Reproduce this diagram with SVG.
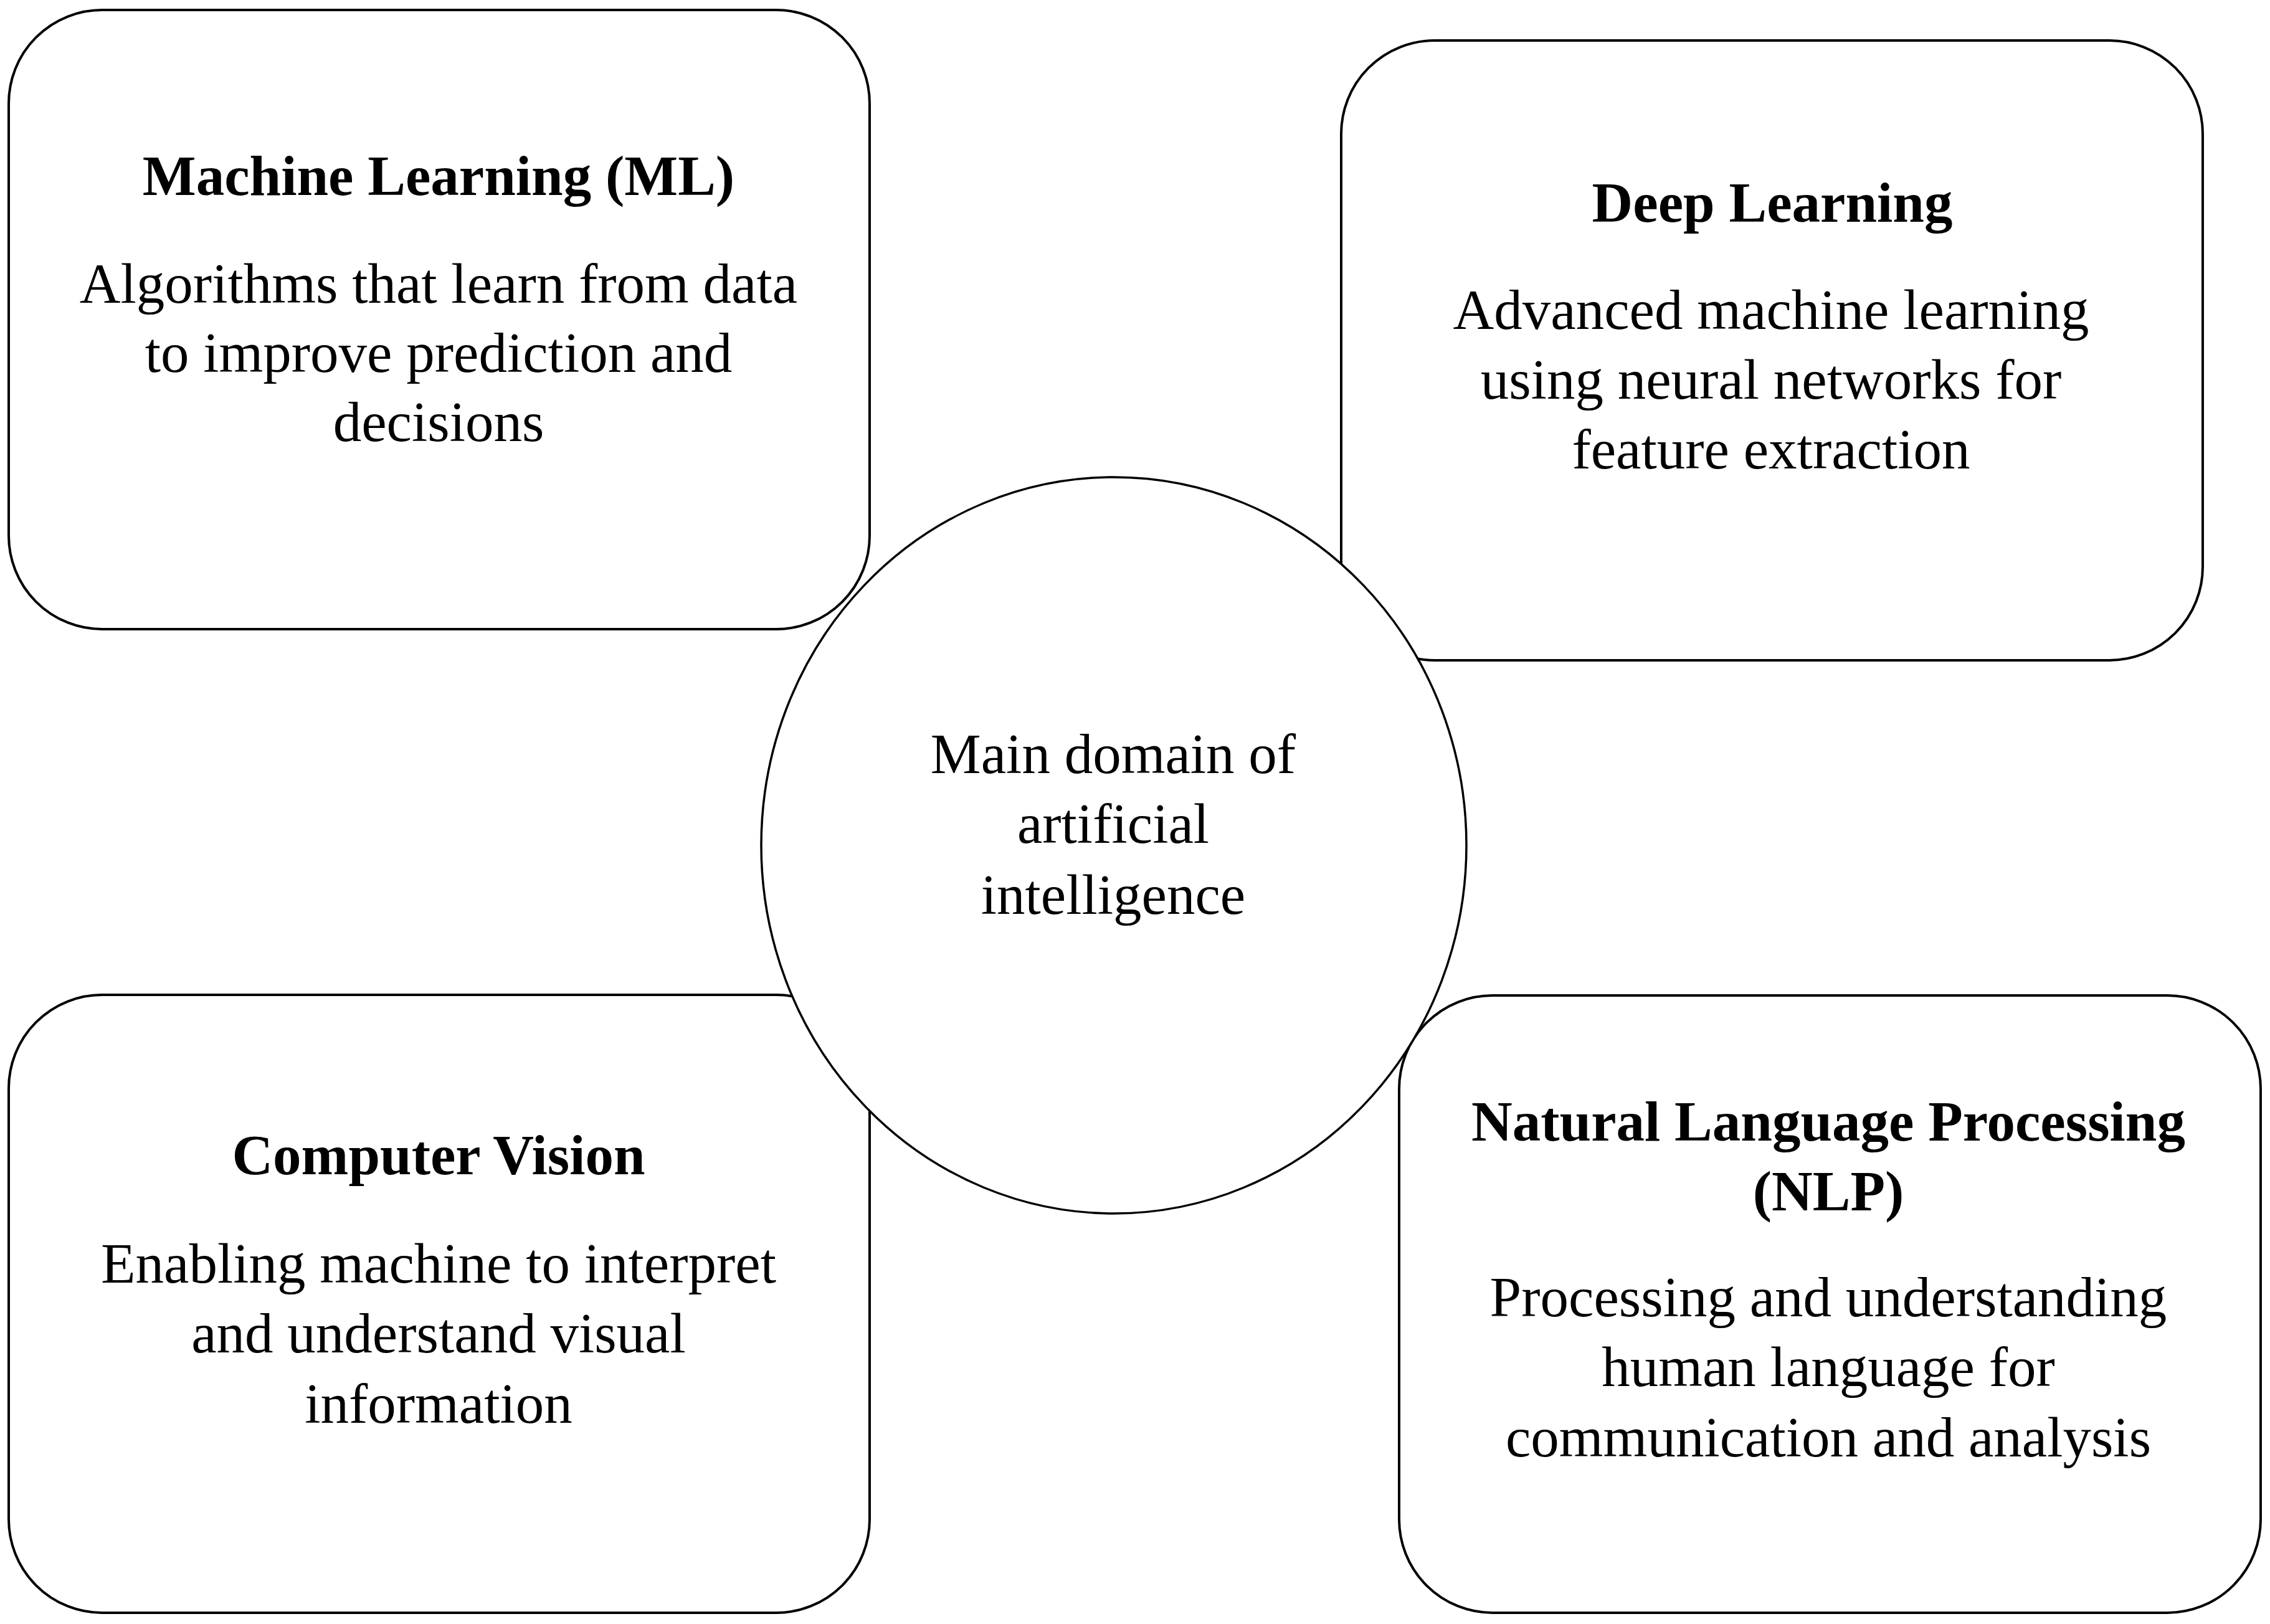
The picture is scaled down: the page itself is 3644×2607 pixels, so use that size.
<svg xmlns="http://www.w3.org/2000/svg" width="3644" height="2607" viewBox="0 0 3644 2607">
<style>
.box{fill:#ffffff;stroke:#000000;stroke-width:4}
.hub{fill:#ffffff;stroke:#000000;stroke-width:3.5}
.t{font-family:"Liberation Serif","Times New Roman",serif;font-size:91px;font-weight:bold;fill:#000;text-anchor:middle}
.b{font-family:"Liberation Serif","Times New Roman",serif;font-size:91px;fill:#000;text-anchor:middle}
</style>
<rect x="0" y="0" width="3644" height="2607" fill="#ffffff"/>
<g id="connectors"/>
<g id="ml">
<rect class="box" x="14" y="16" width="1382" height="994" rx="150" ry="150"/>
<text class="t" x="704" y="313">Machine Learning (ML)</text>
<text class="b" x="704" y="486">Algorithms that learn from data</text>
<text class="b" x="704" y="597">to improve prediction and</text>
<text class="b" x="704" y="708">decisions</text>
</g>
<g id="dl">
<rect class="box" x="2153" y="65" width="1383" height="995" rx="150" ry="150"/>
<text class="t" x="2845" y="356">Deep Learning</text>
<text class="b" x="2843" y="528">Advanced machine learning</text>
<text class="b" x="2843" y="640">using neural networks for</text>
<text class="b" x="2843" y="752">feature extraction</text>
</g>
<g id="cv">
<rect class="box" x="14" y="1597" width="1382" height="992" rx="150" ry="150"/>
<text class="t" x="704" y="1885">Computer Vision</text>
<text class="b" x="704" y="2059">Enabling machine to interpret</text>
<text class="b" x="704" y="2171">and understand visual</text>
<text class="b" x="704" y="2284">information</text>
</g>
<g id="nlp">
<rect class="box" x="2246" y="1598" width="1383" height="991" rx="150" ry="150"/>
<text class="t" x="2935" y="1831">Natural Language Processing</text>
<text class="t" x="2935" y="1943">(NLP)</text>
<text class="b" x="2935" y="2113">Processing and understanding</text>
<text class="b" x="2935" y="2225">human language for</text>
<text class="b" x="2935" y="2338">communication and analysis</text>
</g>
<g id="center">
<ellipse class="hub" cx="1788" cy="1357" rx="566" ry="591"/>
<text class="b" x="1787" y="1241">Main domain of</text>
<text class="b" x="1787" y="1353">artificial</text>
<text class="b" x="1787" y="1467">intelligence</text>
</g>
</svg>
